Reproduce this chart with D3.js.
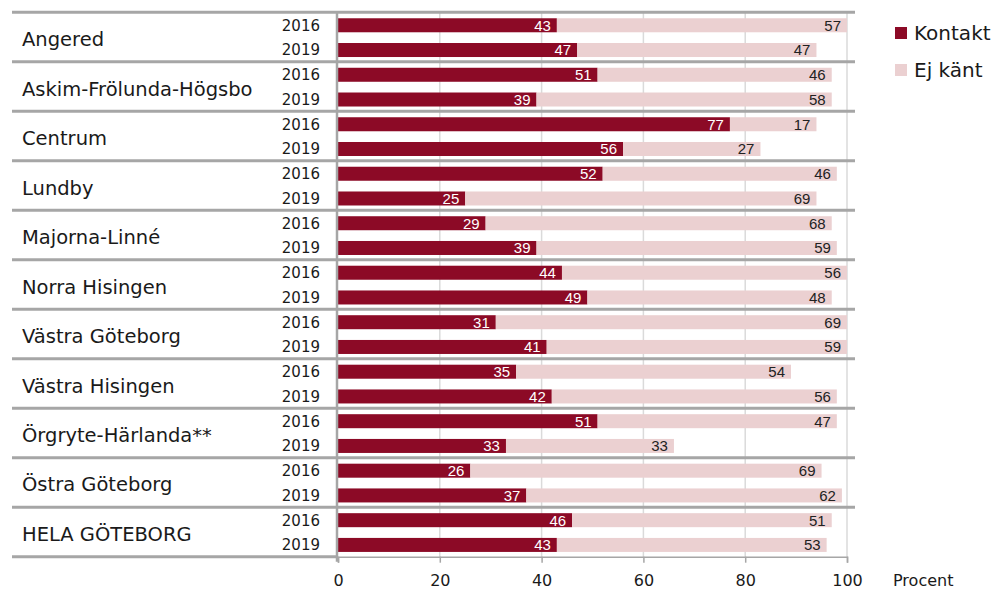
<!DOCTYPE html>
<html>
<head>
<meta charset="utf-8">
<script src="https://cdn.jsdelivr.net/npm/d3@7"></script>
<style>
  body { margin: 0; background: #fff; }
  svg { display: block; }
</style>
</head>
<body>
<svg width="997" height="592"></svg>
<script>
const districts = ["Angered", "Askim-Frölunda-Högsbo", "Centrum", "Lundby", "Majorna-Linné",
  "Norra Hisingen", "Västra Göteborg", "Västra Hisingen", "Örgryte-Härlanda**",
  "Östra Göteborg", "HELA GÖTEBORG"];
const years = ["2016", "2019"];
const kontakt2016 = [43, 51, 77, 52, 29, 44, 31, 35, 51, 26, 46];
const ejKant2016  = [57, 46, 17, 46, 68, 56, 69, 54, 47, 69, 51];
const kontakt2019 = [47, 39, 56, 25, 39, 49, 41, 42, 33, 37, 43];
const ejKant2019  = [47, 58, 27, 69, 59, 48, 59, 56, 33, 62, 53];
const xTicks = [0, 20, 40, 60, 80, 100];
const seriesNames = ["Kontakt", "Ej känt"];
const colors = ["#8c0a26", "#ebd0d1"];

const rows = [];
districts.forEach((d, i) => {
  rows.push({district: d, year: years[0], key: d + years[0], kontakt: kontakt2016[i], ej: ejKant2016[i]});
  rows.push({district: d, year: years[1], key: d + years[1], kontakt: kontakt2019[i], ej: ejKant2019[i]});
});

const svg = d3.select("svg");
const font = "'DejaVu Sans', sans-serif";
const valueFont = "'Liberation Sans', Arial, sans-serif";

const plotTop = 12.3, plotBottom = 556.7;
const x = d3.scaleLinear().domain([0, 100]).range([338, 847]);
const groupY = d3.scaleBand().domain(districts).range([plotTop, plotBottom]);
const y = d3.scaleBand().domain(rows.map(r => r.key))
  .range([plotTop + 0.6, plotBottom + 0.6])
  .paddingInner(0.434).paddingOuter(0.217);

// gridlines
svg.append("g")
  .selectAll("line")
  .data(xTicks.slice(1))
  .join("line")
    .attr("x1", d => x(d)).attr("x2", d => x(d))
    .attr("y1", plotTop).attr("y2", plotBottom)
    .attr("stroke", "#dadada")
    .attr("stroke-width", 1.5);

// bars
const bars = svg.append("g");
bars.selectAll("rect.k")
  .data(rows)
  .join("rect")
    .attr("class", "k")
    .attr("x", x(0))
    .attr("y", d => y(d.key))
    .attr("width", d => x(d.kontakt) - x(0))
    .attr("height", y.bandwidth())
    .attr("fill", colors[0]);

bars.selectAll("rect.e")
  .data(rows)
  .join("rect")
    .attr("class", "e")
    .attr("x", d => x(d.kontakt))
    .attr("y", d => y(d.key))
    .attr("width", d => x(d.kontakt + d.ej) - x(d.kontakt))
    .attr("height", y.bandwidth())
    .attr("fill", colors[1]);

// value labels
bars.selectAll("text.k")
  .data(rows)
  .join("text")
    .attr("class", "k")
    .attr("x", d => x(d.kontakt) - 6)
    .attr("y", d => y(d.key) + y.bandwidth() / 2)
    .attr("dy", "0.36em")
    .attr("text-anchor", "end")
    .attr("font-family", valueFont)
    .attr("font-size", 15)
    .attr("fill", "#fff")
    .text(d => d.kontakt);

bars.selectAll("text.e")
  .data(rows)
  .join("text")
    .attr("class", "e")
    .attr("x", d => x(d.kontakt + d.ej) - 6)
    .attr("y", d => y(d.key) + y.bandwidth() / 2)
    .attr("dy", "0.36em")
    .attr("text-anchor", "end")
    .attr("font-family", valueFont)
    .attr("font-size", 15)
    .attr("fill", "#222")
    .text(d => d.ej);

// y axis line
svg.append("line")
  .attr("x1", x(0) - 1).attr("x2", x(0) - 1)
  .attr("y1", plotTop).attr("y2", plotBottom + 5)
  .attr("stroke", "#a6a6a6")
  .attr("stroke-width", 2.5);

// group separators
svg.append("g")
  .selectAll("line")
  .data(districts)
  .join("line")
    .attr("x1", 12).attr("x2", 855)
    .attr("y1", d => groupY(d)).attr("y2", d => groupY(d))
    .attr("stroke", "#a6a6a6")
    .attr("stroke-width", 3);

svg.append("line")
  .attr("x1", 12).attr("x2", x(0))
  .attr("y1", plotBottom).attr("y2", plotBottom)
  .attr("stroke", "#a6a6a6")
  .attr("stroke-width", 3);

// x axis
const xAxis = svg.append("g")
  .attr("transform", `translate(0,${plotBottom})`)
  .call(d3.axisBottom(x).tickValues(xTicks).tickSize(6).tickPadding(12));
xAxis.select(".domain").attr("stroke", "#a6a6a6").attr("stroke-width", 1.5);
xAxis.selectAll(".tick line").attr("stroke", "#a6a6a6").attr("stroke-width", 1.5);
xAxis.selectAll("text")
  .attr("font-family", font)
  .attr("font-size", 16)
  .attr("fill", "#1a1a1a");

svg.append("text")
  .attr("x", 893)
  .attr("y", 586)
  .attr("font-family", font)
  .attr("font-size", 16)
  .attr("fill", "#1a1a1a")
  .text("Procent");

// district labels
svg.append("g")
  .selectAll("text")
  .data(districts)
  .join("text")
    .attr("x", 22)
    .attr("y", d => groupY(d) + groupY.bandwidth() / 2 + 2)
    .attr("dy", "0.36em")
    .attr("font-family", font)
    .attr("font-size", 19.5)
    .attr("fill", "#1a1a1a")
    .text(d => d);

// year labels
svg.append("g")
  .selectAll("text")
  .data(rows)
  .join("text")
    .attr("x", 320)
    .attr("y", d => y(d.key) + y.bandwidth() / 2)
    .attr("dy", "0.36em")
    .attr("text-anchor", "end")
    .attr("font-family", font)
    .attr("font-size", 15)
    .attr("fill", "#1a1a1a")
    .text(d => d.year);

// legend
const legend = svg.append("g")
  .selectAll("g")
  .data(seriesNames)
  .join("g")
    .attr("transform", (d, i) => `translate(895,${27 + i * 37})`);
legend.append("rect")
  .attr("width", 12).attr("height", 12)
  .attr("fill", (d, i) => colors[i]);
legend.append("text")
  .attr("x", 19)
  .attr("y", 6)
  .attr("dy", "0.36em")
  .attr("font-family", font)
  .attr("font-size", 20)
  .attr("fill", "#1a1a1a")
  .text(d => d);
</script>
</body>
</html>
